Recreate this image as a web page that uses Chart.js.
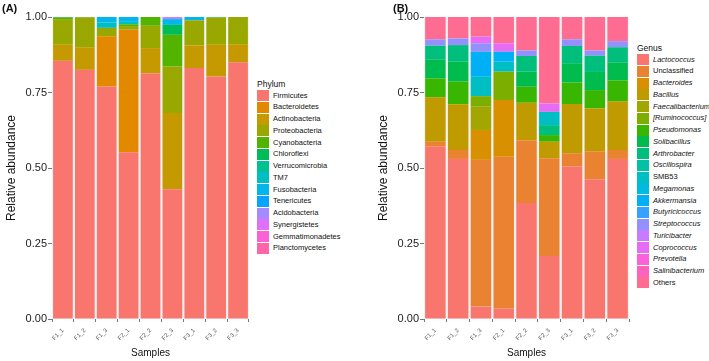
<!DOCTYPE html>
<html>
<head>
<meta charset="utf-8">
<script src="https://cdn.jsdelivr.net/npm/chart.js@4.4.1/dist/chart.umd.min.js"></script>
<style>
  body { margin: 0; background: #fff; font-family: "Liberation Sans", Arial, sans-serif; }
  #wrap { position: relative; width: 709px; height: 361px; overflow: hidden; }
  canvas { position: absolute; top: 0; }
  .tag { position: absolute; font-weight: bold; font-size: 11px; color: #111; }
  .lg-title { position: absolute; font-size: 8.5px; color: #111; line-height: 10px; }
  .lg-key { position: absolute; width: 12px; height: 11px; }
  .lg-text { position: absolute; font-size: 7.5px; color: #111; line-height: 10px; white-space: nowrap; }
</style>
</head>
<body>
<div id="wrap">
  <canvas id="chartA" width="252" height="361" style="left:0px"></canvas>
  <canvas id="chartB" width="260" height="361" style="left:372px"></canvas>
  <div class="tag" style="left:2px;top:2px">(A)</div>
  <div class="tag" style="left:393px;top:2px">(B)</div>
</div>
<script>
// samples (x categories)
const samples = ['F1_1', 'F1_2', 'F1_3', 'F2_1', 'F2_2', 'F2_3', 'F3_1', 'F3_2', 'F3_3'];
const yTicks = [0, 0.25, 0.5, 0.75, 1];

// (A) phylum level relative abundance, one value per sample
const phylumNames = ['Firmicutes', 'Bacteroidetes', 'Actinobacteria', 'Proteobacteria', 'Cyanobacteria',
  'Chloroflexi', 'Verrucomicrobia', 'TM7', 'Fusobacteria', 'Tenericutes', 'Acidobacteria',
  'Synergistetes', 'Gemmatimonadetes', 'Planctomycetes'];
const firmicutes       = [0.855, 0.825, 0.770, 0.552, 0.814, 0.430, 0.831, 0.803, 0.850];
const bacteroidetes    = [0, 0, 0.166, 0.406, 0, 0, 0, 0, 0];
const actinobacteria   = [0.053, 0.075, 0, 0, 0.083, 0.252, 0.075, 0.105, 0.060];
const proteobacteria   = [0.085, 0.098, 0.028, 0.012, 0.074, 0.154, 0.083, 0.090, 0.090];
const cyanobacteria    = [0.005, 0.002, 0, 0.006, 0.029, 0.105, 0, 0, 0];
const chloroflexi      = [0.002, 0, 0, 0, 0, 0.033, 0, 0.002, 0];
const verrucomicrobia  = [0, 0, 0, 0, 0, 0, 0, 0, 0];
const tm7              = [0, 0, 0.018, 0.008, 0, 0, 0, 0, 0];
const fusobacteria     = [0, 0, 0.018, 0.016, 0, 0.019, 0.011, 0, 0];
const tenericutes      = [0, 0, 0, 0, 0, 0, 0, 0, 0];
const acidobacteria    = [0, 0, 0, 0, 0, 0.004, 0, 0, 0];
const synergistetes    = [0, 0, 0, 0, 0, 0.003, 0, 0, 0];
const gemmatimonadetes = [0, 0, 0, 0, 0, 0, 0, 0, 0];
const planctomycetes   = [0, 0, 0, 0, 0, 0, 0, 0, 0];

// (B) genus level relative abundance
const genusNames = ['Lactococcus', 'Unclassified', 'Bacteroides', 'Bacillus', 'Faecalibacterium',
  '[Ruminococcus]', 'Pseudomonas', 'Solibacillus', 'Arthrobacter', 'Oscillospira', 'SMB53',
  'Megamonas', 'Akkermansia', 'Butyricicoccus', 'Streptococcus', 'Turicibacter', 'Coprococcus',
  'Prevotella', 'Salinibacterium', 'Others'];
const lactococcus      = [0.571, 0.530, 0.041, 0.035, 0.384, 0.209, 0.505, 0.463, 0.530];
const unclassified     = [0.016, 0.030, 0.486, 0.502, 0.208, 0.323, 0.044, 0.092, 0.030];
const bacteroides      = [0, 0, 0.099, 0.188, 0, 0, 0, 0, 0];
const bacillus         = [0.147, 0.151, 0, 0, 0.124, 0.055, 0.163, 0.143, 0.160];
const faecalibacterium = [0, 0, 0.077, 0, 0, 0, 0, 0, 0];
const ruminococcus     = [0, 0, 0.035, 0.094, 0, 0, 0, 0, 0];
const pseudomonas      = [0.063, 0.075, 0, 0, 0.053, 0.022, 0.071, 0.060, 0.070];
const solibacillus     = [0.063, 0.066, 0, 0, 0.050, 0, 0.064, 0.060, 0.060];
const arthrobacter     = [0.045, 0.055, 0, 0, 0.052, 0.033, 0.057, 0.054, 0.050];
const oscillospira     = [0, 0, 0, 0, 0, 0, 0, 0, 0];
const smb53            = [0, 0, 0.064, 0.033, 0, 0.044, 0, 0, 0];
const megamonas        = [0, 0, 0, 0, 0, 0, 0, 0, 0];
const akkermansia      = [0, 0, 0.083, 0.033, 0, 0, 0, 0, 0];
const butyricicoccus   = [0, 0, 0, 0, 0, 0, 0, 0, 0];
const streptococcus    = [0.021, 0.022, 0.028, 0, 0.018, 0, 0.022, 0.017, 0.020];
const turicibacter     = [0, 0, 0, 0, 0, 0, 0, 0, 0];
const coprococcus      = [0, 0, 0.022, 0.028, 0, 0.028, 0, 0, 0];
const prevotella       = [0, 0, 0, 0, 0, 0, 0, 0, 0];
const salinibacterium  = [0, 0, 0, 0, 0, 0, 0, 0, 0];
const others           = [0.074, 0.071, 0.065, 0.087, 0.111, 0.286, 0.074, 0.111, 0.080];

const phylumValues = [firmicutes, bacteroidetes, actinobacteria, proteobacteria, cyanobacteria,
  chloroflexi, verrucomicrobia, tm7, fusobacteria, tenericutes, acidobacteria, synergistetes,
  gemmatimonadetes, planctomycetes];
const genusValues = [lactococcus, unclassified, bacteroides, bacillus, faecalibacterium, ruminococcus,
  pseudomonas, solibacillus, arthrobacter, oscillospira, smb53, megamonas, akkermansia, butyricicoccus,
  streptococcus, turicibacter, coprococcus, prevotella, salinibacterium, others];

// ggplot default hue palettes
const phylumColors = ['#F8766D', '#E38900', '#C49A00', '#99A800', '#53B400', '#00BC56', '#00C094',
  '#00BFC4', '#00B6EB', '#06A4FF', '#A58AFF', '#DF70F8', '#FB61D7', '#FF66A8'];
const genusColors = ['#F8766D', '#EA8331', '#D89000', '#C09B00', '#A3A500', '#7CAE00', '#39B600',
  '#00BB4E', '#00BF7D', '#00C1A3', '#00BFC4', '#00BAE0', '#00B0F6', '#35A2FF', '#9590FF', '#C77CFF',
  '#E76BF3', '#FA62DB', '#FF62BC', '#FF6C91'];
const plainGenus = ['Unclassified', 'SMB53', 'Others'];

// light panel background behind the bars
const panelBg = {
  id: 'panelBg',
  beforeDraw(chart) {
    const {ctx, chartArea: a} = chart;
    ctx.save();
    ctx.fillStyle = '#F2F2F2';
    ctx.fillRect(a.left, a.top, a.right - a.left, a.bottom - a.top);
    ctx.restore();
  }
};

function makeChart(id, names, values, colors) {
  const ctx = document.getElementById(id).getContext('2d');
  return new Chart(ctx, {
    type: 'bar',
    data: {
      labels: samples,
      datasets: names.map((n, i) => ({
        label: n,
        data: values[i],
        backgroundColor: colors[i],
        borderWidth: 0,
        barPercentage: 0.9,
        categoryPercentage: 1.0
      }))
    },
    options: {
      responsive: false,
      animation: false,
      devicePixelRatio: 1,
      layout: { padding: { top: 17, right: 3, left: 0, bottom: 0 } },
      plugins: { legend: { display: false }, tooltip: { enabled: false } },
      scales: {
        x: {
          stacked: true,
          afterFit: s => { s.height = 42; },
          grid: { drawOnChartArea: false, tickLength: 3, color: '#777' },
          border: { display: false },
          ticks: {
            font: { family: 'Liberation Sans', size: 6 },
            color: '#555',
            minRotation: 45,
            maxRotation: 45,
            padding: 5
          },
          title: {
            display: true,
            text: 'Samples',
            font: { family: 'Liberation Sans', size: 10 },
            color: '#111',
            padding: { top: 0, bottom: 2 }
          }
        },
        y: {
          stacked: true,
          min: 0,
          max: 1,
          afterFit: s => { s.width = 52; },
          afterBuildTicks: s => { s.ticks = yTicks.map(v => ({ value: v })); },
          grid: { drawOnChartArea: false, tickLength: 4, color: '#777' },
          border: { display: false },
          ticks: {
            font: { family: 'Liberation Sans', size: 11 },
            color: '#222',
            padding: 1,
            callback: v => v.toFixed(2)
          },
          title: {
            display: true,
            text: 'Relative abundance',
            font: { family: 'Liberation Sans', size: 12 },
            color: '#111',
            padding: { top: 4, bottom: 4 }
          }
        }
      }
    },
    plugins: [panelBg]
  });
}

function makeLegend(title, names, colors, left, top, italic) {
  const wrap = document.getElementById('wrap');
  const t = document.createElement('div');
  t.className = 'lg-title';
  t.textContent = title;
  t.style.left = left + 'px';
  t.style.top = (top - 11) + 'px';
  wrap.appendChild(t);
  names.forEach((n, i) => {
    const y = top + i * 11.75;
    const k = document.createElement('div');
    k.className = 'lg-key';
    k.style.left = left + 'px';
    k.style.top = y + 'px';
    k.style.background = colors[i];
    wrap.appendChild(k);
    const s = document.createElement('div');
    s.className = 'lg-text';
    s.textContent = n;
    s.style.left = (left + 16) + 'px';
    s.style.top = (y + 0.5) + 'px';
    if (italic && !plainGenus.includes(n)) s.style.fontStyle = 'italic';
    wrap.appendChild(s);
  });
}

makeChart('chartA', phylumNames, phylumValues, phylumColors);
makeChart('chartB', genusNames, genusValues, genusColors);
makeLegend('Phylum', phylumNames, phylumColors, 257, 90, false);
makeLegend('Genus', genusNames, genusColors, 637, 54, true);
</script>
</body>
</html>
